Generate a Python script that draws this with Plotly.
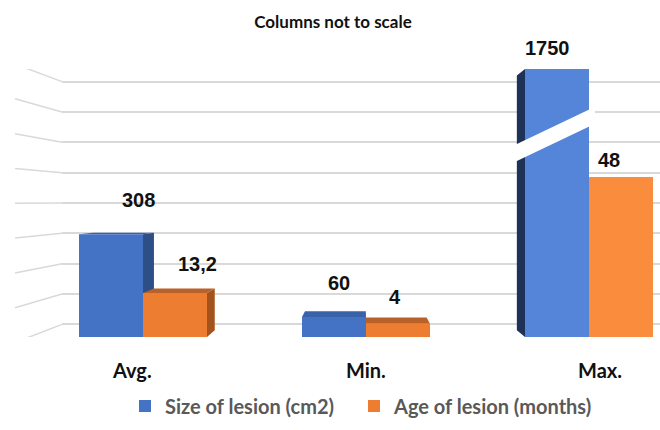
import plotly.graph_objects as go

# ---------------- data ----------------
categories = ["Avg.", "Min.", "Max."]
size_of_lesion = [308, 60, 1750]          # cm2
age_of_lesion = [13.2, 4, 48]             # months
series_names = ["Size of lesion (cm2)", "Age of lesion (months)"]
title_text = "Columns not to scale"

# ---------------- layout constants (pixels) ----------------
W, H = 660, 430
PL, PR, PT, PB = 62, 660, 69, 337
CAT0_PX, CAT_STEP = 143, 223
X_RANGE = [(PL - CAT0_PX) / CAT_STEP, (PR - CAT0_PX) / CAT_STEP]
Y1_MAX = 804.0      # primary axis (size) range top
Y2_MAX = 80.4       # secondary axis (age) range top, 10x scale of primary
BAR_W = 0.287
EYE = (362.0, 201.0)
DEPTH = 0.05

blue_front = ["#4472c4", "#4472c4", "#5585d8"]
orange_front = ["#ed7d31", "#ed7d31", "#f98d3d"]
blue_side, blue_top = "#2e4e88", "#3a62a8"
blue_side_max = "#1e3257"
orange_side, orange_top = "#a4531d", "#b8622a"
GRID = "#d9d9d9"


def xpx(x):
    return CAT0_PX + CAT_STEP * x


def xdata(px):
    return (px - CAT0_PX) / CAT_STEP


def ypx(v, ymax):
    return PB - (PB - PT) * v / ymax


def ydata1(py):
    return (PB - py) / (PB - PT) * Y1_MAX


def back(p):
    return (p[0] + (EYE[0] - p[0]) * DEPTH, p[1] + (EYE[1] - p[1]) * DEPTH)


def path_from_px(pts):
    s = "M " + " L ".join(f"{xdata(a):.5f},{ydata1(b):.3f}" for a, b in pts) + " Z"
    return s


fig = go.Figure()
fig.add_trace(go.Bar(
    x=list(range(len(categories))), y=size_of_lesion, name=series_names[0],
    width=BAR_W, offset=-BAR_W, marker=dict(color=blue_front, line=dict(width=0)),
    yaxis="y", legend="legend",
))
fig.add_trace(go.Bar(
    x=list(range(len(categories))), y=age_of_lesion, name=series_names[1],
    width=BAR_W, offset=0, marker=dict(color=orange_front, line=dict(width=0)),
    yaxis="y2", legend="legend2",
))

shapes = []
# back wall: diagonal segments at the left, derived from gridline values
tick_vals = [38 + 91 * k for k in range(9)]
for tv in tick_vals:
    gy = ypx(tv, Y1_MAX)
    ly = EYE[1] + (gy - EYE[1]) * 1.148
    shapes.append(dict(type="line", xref="paper", yref="y",
                       x0=(15 - PL) / (PR - PL), x1=0, y0=ydata1(ly), y1=tv,
                       line=dict(color=GRID, width=1.5), layer="below"))

# 3D faces for each bar, computed from bar geometry
for i in range(len(categories)):
    for s, (vals, ymax, side_c, top_c) in enumerate([
            (size_of_lesion, Y1_MAX, blue_side, blue_top),
            (age_of_lesion, Y2_MAX, orange_side, orange_top)]):
        v = min(vals[i], ymax)
        xl = xpx(i - BAR_W + s * BAR_W)
        xr = xl + CAT_STEP * BAR_W
        yt = ypx(v, ymax)
        yb = PB
        if i == 2 and s == 0:
            side_c = blue_side_max
        if xr < EYE[0]:
            pts = [(xr, yt), (xr, yb), back((xr, yb)), back((xr, yt))]
            shapes.append(dict(type="path", path=path_from_px(pts), xref="x", yref="y",
                               fillcolor=side_c, line=dict(width=0), layer="between"))
        if xl > EYE[0]:
            pts = [(xl, yt), (xl, yb), back((xl, yb)), back((xl, yt))]
            shapes.append(dict(type="path", path=path_from_px(pts), xref="x", yref="y",
                               fillcolor=side_c, line=dict(width=0), layer="between"))
        if yt > EYE[1]:
            pts = [(xl, yt), (xr, yt), back((xr, yt)), back((xl, yt))]
            shapes.append(dict(type="path", path=path_from_px(pts), xref="x", yref="y",
                               fillcolor=top_c, line=dict(width=0), layer="between"))

# break mark on the column that exceeds the axis range
for i, v in enumerate(size_of_lesion):
    if v > Y1_MAX:
        xl = xpx(i - BAR_W)
        xr = xl + CAT_STEP * BAR_W
        bl = back((xl, PB))[0] - 1
        br = xr + 6
        h = PB - PT
        yl_c, yr_c, th = PB - 0.687 * h, PB - 0.827 * h, 8.5
        pts = [(bl, yl_c + th), (br, yr_c + th), (br, yr_c - th), (bl, yl_c - th)]
        shapes.append(dict(type="path", path=path_from_px(pts), xref="x", yref="y",
                           fillcolor="white", line=dict(width=0), layer="above"))

# value labels
def fmt(v):
    return str(int(v)) if float(v).is_integer() else str(v).replace(".", ",")

label_shift_size = [(27, 34), (5, 34), (-10, 21)]
label_shift_age = [(22, 29), (-3, 27), (-12, 17)]
annotations = []
for i in range(len(categories)):
    for vals, ymax, yref, sh, off in [
            (size_of_lesion, Y1_MAX, "y", label_shift_size, -BAR_W / 2),
            (age_of_lesion, Y2_MAX, "y2", label_shift_age, BAR_W / 2)]:
        annotations.append(dict(
            x=i + off, y=min(vals[i], ymax), xref="x", yref=yref,
            text=fmt(vals[i]), showarrow=False, xshift=sh[i][0], yshift=sh[i][1],
            font=dict(family="Liberation Sans, Arial", size=20, color="#111111", weight="bold"),
            xanchor="center", yanchor="middle"))

# category labels
cat_xshift = [-11, 0, 11]
for i, c in enumerate(categories):
    annotations.append(dict(
        x=i, y=0, xref="x", yref="y", text=c, showarrow=False,
        xshift=cat_xshift[i], yshift=-33, xanchor="center", yanchor="middle",
        font=dict(family="Lato", size=20, color="#111111", weight="bold")))

legend_font = dict(family="Lato", size=20, color="#595959", weight="bold")
fig.update_layout(
    width=W, height=H,
    margin=dict(l=PL, r=W - PR, t=PT, b=H - PB, autoexpand=False),
    paper_bgcolor="white", plot_bgcolor="white",
    title=dict(text=title_text, x=333 / W, xanchor="center", y=1 - 22 / H, yanchor="middle",
               font=dict(family="Lato", size=17, color="#111111", weight="bold")),
    xaxis=dict(range=X_RANGE, tickvals=list(range(len(categories))), ticktext=categories,
               showticklabels=False, showgrid=False, zeroline=False, showline=False, ticks=""),
    yaxis=dict(range=[0, Y1_MAX], tickvals=tick_vals, showticklabels=False,
               showgrid=True, gridcolor=GRID, gridwidth=1.5, zeroline=False, ticks=""),
    yaxis2=dict(range=[0, Y2_MAX], overlaying="y", side="right", showgrid=False,
                showticklabels=False, zeroline=False, ticks=""),
    barmode="overlay",
    showlegend=True,
    legend=dict(orientation="h", xref="container", yref="container",
                x=125 / W, xanchor="left", y=1 - 406 / H, yanchor="middle",
                itemwidth=30, font=legend_font),
    legend2=dict(orientation="h", xref="container", yref="container",
                 x=354 / W, xanchor="left", y=1 - 406 / H, yanchor="middle",
                 itemwidth=30, font=legend_font),
    shapes=shapes, annotations=annotations,
)

fig.write_html("out.html", config={"displayModeBar": False},
               post_script="document.body.style.margin='0';")
